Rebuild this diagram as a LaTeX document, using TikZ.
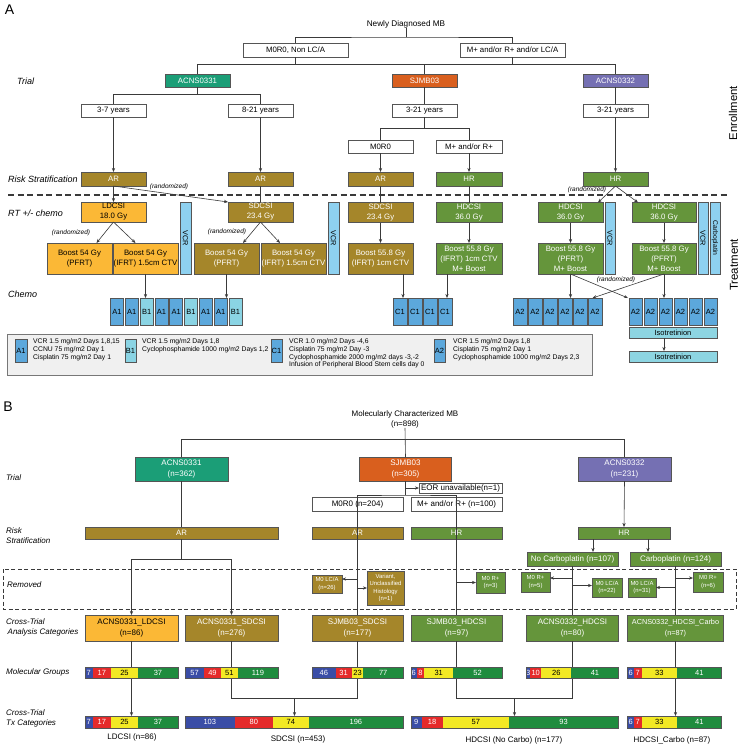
\documentclass[tikz,border=0pt]{standalone}
\usepackage{fontspec}
\setmainfont{Liberation Sans}
\usetikzlibrary{arrows.meta,calc}
\newcommand\fsz[2]{\fontsize{#1}{#2}\selectfont}
\definecolor{bdr}{HTML}{555555}
\definecolor{ln}{HTML}{3A3A3A}
\definecolor{cteal}{HTML}{1B9E77}
\definecolor{corange}{HTML}{D95F1E}
\definecolor{cpurple}{HTML}{7570B3}
\definecolor{colive}{HTML}{A5862A}
\definecolor{cyel}{HTML}{FBB836}
\definecolor{cgreen}{HTML}{65953B}
\definecolor{cvcr}{HTML}{8ED1F0}
\definecolor{ca}{HTML}{5CA8DC}
\definecolor{cb}{HTML}{8AD4E4}
\definecolor{ciso}{HTML}{8DD5E2}
\definecolor{mblue}{HTML}{3A4DA6}
\definecolor{mred}{HTML}{E52A2A}
\definecolor{myel}{HTML}{F3E924}
\definecolor{mgreen}{HTML}{1F8C3E}
\definecolor{lgray}{HTML}{F0F0F0}
\tikzset{
  bx/.style={draw=bdr, line width=0.5pt, inner sep=0pt, outer sep=0pt, align=center, font=\fsz{7.8}{10}},
  wbx/.style={bx, fill=white},
  tealbx/.style={bx, fill=cteal, text=white},
  orbx/.style={bx, fill=corange, text=white},
  purbx/.style={bx, fill=cpurple, text=white},
  olbx/.style={bx, fill=colive, text=white},
  grbx/.style={bx, fill=cgreen, text=white},
  yebx/.style={bx, fill=cyel, text=black},
  vbar/.style={bx, fill=cvcr, rotate=-90, minimum width=72, minimum height=11, font=\fsz{7.3}{8}},
  chm/.style={bx, fill=ca, minimum width=13, minimum height=27, font=\fsz{7.5}{8}},
  smbx/.style={font=\fsz{5.9}{7.6}},
  lab/.style={anchor=west, font=\fsz{9}{10}\itshape, inner sep=0pt},
  labB/.style={anchor=west, align=left, font=\fsz{8}{10}\itshape, inner sep=0pt},
  rnd/.style={font=\fsz{6.5}{7}\itshape, inner sep=0pt},
  con/.style={draw=ln, line width=0.6pt},
  arr/.style={con, -{Stealth[length=4pt,width=3.2pt]}},
  seg/.style={inner sep=0pt, outer sep=0pt, anchor=west, font=\fsz{7.5}{8}},
  plain/.style={inner sep=0pt, font=\fsz{8}{10}, align=center},
}
% name, x0, ycenter, width, a, b, c, d, height
\newcommand\mbar[9]{%
  \pgfmathsetmacro\mtot{#5+#6+#7+#8}%
  \pgfmathsetmacro\mwa{#4/\mtot*#5}%
  \pgfmathsetmacro\mwb{#4/\mtot*#6}%
  \pgfmathsetmacro\mwc{#4/\mtot*#7}%
  \pgfmathsetmacro\mwd{#4/\mtot*#8}%
  \node[seg, fill=mblue, text=white, minimum width=\mwa, minimum height=#9] (#1a) at (#2,#3) {\makebox[0pt]{#5}};
  \node[seg, fill=mred, text=white, minimum width=\mwb, minimum height=#9] (#1b) at (#1a.east) {\makebox[0pt]{#6}};
  \node[seg, fill=myel, text=black, minimum width=\mwc, minimum height=#9] (#1c) at (#1b.east) {\makebox[0pt]{#7}};
  \node[seg, fill=mgreen, text=white, minimum width=\mwd, minimum height=#9] (#1d) at (#1c.east) {\makebox[0pt]{#8}};
  \draw[bdr, line width=0.4pt] (#1a.north west) rectangle (#1d.south east);
}
\begin{document}
\begin{tikzpicture}[x=1pt,y=-1pt]
\useasboundingbox[fill=white] (0,0) rectangle (740,747);
%================ PART A =================
\node[font=\fsz{14}{14}, inner sep=0pt] (lblA) at (9.5,10) {A};
\node[plain, font=\fsz{8.2}{10}] (title) at (406,24) {Newly Diagnosed MB};
\node[wbx, minimum width=105, minimum height=14] (m0) at (295.5,50) {M0R0, Non LC/A};
\node[wbx, minimum width=105, minimum height=14] (mp) at (512.5,50) {M+ and/or R+ and/or LC/A};
\coordinate (j0) at (406,37);
\draw[con] (title.south) -- (j0);
\draw[con] (m0.north) |- (j0) -| (mp.north);

\node[tealbx, minimum width=65, minimum height=13] (a31) at (197.5,80.5) {ACNS0331};
\node[orbx, minimum width=65, minimum height=13] (sj) at (424.5,80.5) {SJMB03};
\node[purbx, minimum width=65, minimum height=13] (a32) at (615.5,80.5) {ACNS0332};
\draw[con] (m0.south) -- ++(0,7);
\draw[con] (mp.south) -- ++(0,7);
\draw[con] (a31.north) -- ++(0,-10) -| (a32.north);
\draw[con] (sj.north) -- ++(0,-10);

\node[wbx, minimum width=65, minimum height=13] (g1) at (113.5,110.5) {3-7 years};
\node[wbx, minimum width=65, minimum height=13] (g2) at (260.5,110.5) {8-21 years};
\node[wbx, minimum width=65, minimum height=13] (g3) at (424.5,110.5) {3-21 years};
\node[wbx, minimum width=65, minimum height=13] (g4) at (615.5,110.5) {3-21 years};
\draw[con] (a31.south) -- ++(0,7);
\draw[con] (g1.north) -- ++(0,-10) -| (g2.north);
\draw[con] (sj.south) -- (g3.north);
\draw[con] (a32.south) -- (g4.north);

\node[wbx, minimum width=65, minimum height=13] (s0) at (380.5,146.5) {M0R0};
\node[wbx, minimum width=66, minimum height=13] (sp) at (469,146.5) {M+ and/or R+};
\draw[con] (g3.south) -- ++(0,11);
\draw[con] (s0.north) -- ++(0,-12) -| (sp.north);

\node[olbx, minimum width=65, minimum height=14] (ar1) at (113.5,179) {AR};
\node[olbx, minimum width=65, minimum height=14] (ar2) at (260.5,179) {AR};
\node[olbx, minimum width=65, minimum height=14] (ar3) at (380.5,179) {AR};
\node[grbx, minimum width=66, minimum height=14] (hr1) at (469,179) {HR};
\node[grbx, minimum width=65, minimum height=14] (hr2) at (615.5,179) {HR};
\draw[arr] (g1.south) -- (ar1.north);
\draw[arr] (g2.south) -- (ar2.north);
\draw[arr] (s0.south) -- (ar3.north);
\draw[arr] (sp.south) -- (hr1.north);
\draw[arr] (g4.south) -- (hr2.north);

\draw[ln, line width=1.5pt, dash pattern=on 6pt off 3.5pt] (8,195) -- (729,195);

\node[yebx, minimum width=65, minimum height=20] (ld) at (113.5,212) {LDCSI\\18.0 Gy};
\node[olbx, minimum width=65, minimum height=20] (sd1) at (260.5,212) {SDCSI\\23.4 Gy};
\node[olbx, minimum width=65, minimum height=20] (sd2) at (380.5,212.5) {SDCSI\\23.4 Gy};
\node[grbx, minimum width=66, minimum height=20] (hd1) at (469,212.5) {HDCSI\\36.0 Gy};
\node[grbx, minimum width=65, minimum height=20] (hd2) at (570.5,212.5) {HDCSI\\36.0 Gy};
\node[grbx, minimum width=64, minimum height=20] (hd3) at (664,212.5) {HDCSI\\36.0 Gy};
\draw[arr] (ar1.south) -- (ld.north);
\draw[arr] (ar1.south) -- (sd1.north west);
\draw[con] (ar2.south) -- (sd1.north);
\draw[con] (ar3.south) -- (sd2.north);
\draw[con] (hr1.south) -- (hd1.north);
\draw[arr] (hr2.south) -- ([xshift=-5pt]hd2.north east);
\draw[arr] (hr2.south) -- ([xshift=6pt]hd3.north west);
\node[rnd] (rz1) at (169,187) {(randomized)};
\node[rnd] (rz4) at (587,190) {(randomized)};

\node[yebx, minimum width=65, minimum height=31] (b1) at (79.5,258.5) {Boost 54 Gy\\(PFRT)};
\node[yebx, minimum width=65, minimum height=31] (b2) at (145.5,258.5) {Boost 54 Gy\\(IFRT) 1.5cm CTV};
\node[olbx, minimum width=65, minimum height=31] (b3) at (226.5,258.5) {Boost 54 Gy\\(PFRT)};
\node[olbx, minimum width=65, minimum height=31] (b4) at (293.5,258.5) {Boost 54 Gy\\(IFRT) 1.5cm CTV};
\node[olbx, minimum width=65, minimum height=31] (b5) at (380.5,258.5) {Boost 55.8 Gy\\(IFRT) 1cm CTV};
\node[grbx, minimum width=66, minimum height=31] (b6) at (469,258.5) {Boost 55.8 Gy\\(IFRT) 1cm CTV\\M+ Boost};
\node[grbx, minimum width=65, minimum height=31] (b7) at (570.5,258.5) {Boost 55.8 Gy\\(PFRT)\\M+ Boost};
\node[grbx, minimum width=64, minimum height=31] (b8) at (664,258.5) {Boost 55.8 Gy\\(PFRT)\\M+ Boost};
\draw[arr] (ld.south) -- ([xshift=17pt]b1.north);
\draw[arr] (ld.south) -- ([xshift=-10pt]b2.north);
\draw[arr] (sd1.south) -- ([xshift=16.5pt]b3.north);
\draw[arr] (sd1.south) -- ([xshift=-13.5pt]b4.north);
\draw[arr] (sd2.south) -- (b5.north);
\draw[arr] (hd1.south) -- (b6.north);
\draw[arr] (hd2.south) -- (b7.north);
\draw[arr] (hd3.south) -- (b8.north);
\node[rnd] (rz2) at (71,233) {(randomized)};
\node[rnd] (rz3) at (227,232) {(randomized)};

\node[vbar] (v1) at (185.5,238) {VCR};
\node[vbar] (v2) at (333.5,238) {VCR};
\node[vbar, minimum height=10] (v3) at (610,238) {VCR};
\node[vbar, minimum height=10] (v4) at (703,238) {VCR};
\node[vbar, minimum height=10, font=\fsz{6.8}{8}] (v5) at (715,238) {Carboplatin};

% chemo row
\foreach \i/\t/\c in {0/A1/ca,1/A1/ca,2/B1/cb,3/A1/ca,4/A1/ca,5/B1/cb,6/A1/ca,7/A1/ca,8/B1/cb}
  \node[chm, fill=\c] (r1\i) at ({117+14.8*\i},311.5) {\t};
\foreach \i in {0,...,3}
  \node[chm, minimum width=14] (r2\i) at ({400+15*\i},311.5) {C1};
\foreach \i in {0,...,5}
  \node[chm, minimum width=13.5] (r3\i) at ({520+15*\i},311.5) {A2};
\foreach \i in {0,...,5}
  \node[chm, minimum width=13.5] (r4\i) at ({635.5+15*\i},311.5) {A2};
\draw[arr] (b2.south) -- (b2.south |- r12.north);
\draw[arr] (b3.south) -- (b3.south |- r17.north);
\coordinate (q5) at ($(b5.south)+(22.5,0)$);
\draw[arr] (q5) -- (q5 |- r20.north);
\coordinate (q6) at ($(b6.south)+(-22,0)$);
\draw[arr] (q6) -- (q6 |- r23.north);
\draw[arr] (b7.south) -- (b7.south |- r33.north);
\draw[arr] (b7.south) -- ([xshift=-7.5pt]r40.north);
\draw[arr] (b8.south) -- (b8.south |- r42.north);
\draw[arr] (b8.south) -- ([xshift=-2.5pt]r35.north);
\node[rnd] (rz5) at (616,280) {(randomized)};

\node[bx, fill=ciso, minimum width=88, minimum height=11, font=\fsz{7.5}{8}] (iso1) at (673,332.5) {Isotretinion};
\node[bx, fill=ciso, minimum width=88, minimum height=11, font=\fsz{7.5}{8}] (iso2) at (673,356.5) {Isotretinion};
\draw[arr] (iso1.south -| b8.south) -- (iso2.north -| b8.south);

% legend
\node[draw=bdr!80, fill=lgray, line width=0.5pt, minimum width=585, minimum height=41, inner sep=0pt] (leg) at (299.5,354.5) {};
\node[chm, minimum width=12, minimum height=23] (kA1) at (21,350.5) {A1};
\node[chm, fill=cb, minimum width=11, minimum height=23] (kB1) at (130.5,350.5) {B1};
\node[chm, minimum width=11, minimum height=23] (kC1) at (276.5,350.5) {C1};
\node[chm, minimum width=11, minimum height=23] (kA2) at (439.5,350.5) {A2};
\node[anchor=north west, align=left, font=\fsz{6.8}{7.7}, inner sep=0pt] (tA1) at (33,338.5) {VCR 1.5 mg/m2 Days 1,8,15\\CCNU 75 mg/m2 Day 1\\Cisplatin 75 mg/m2 Day 1};
\node[anchor=north west, align=left, font=\fsz{6.8}{7.7}, inner sep=0pt] (tB1) at (142,338.5) {VCR 1.5 mg/m2 Days 1,8\\Cyclophosphamide 1000 mg/m2 Days 1,2};
\node[anchor=north west, align=left, font=\fsz{6.8}{7.7}, inner sep=0pt] (tC1) at (289,338.5) {VCR 1.0 mg/m2 Days -4,6\\Cisplatin 75 mg/m2 Day -3\\Cyclophosphamide 2000 mg/m2 days -3,-2\\Infusion of Peripheral Blood Stem cells day 0};
\node[anchor=north west, align=left, font=\fsz{6.8}{7.7}, inner sep=0pt] (tA2) at (453,338.5) {VCR 1.5 mg/m2 Days 1,8\\Cisplatin 75 mg/m2 Day 1\\Cyclophosphamide 1000 mg/m2 Days 2,3};

% row labels A
\node[lab] (lt) at (17,81) {Trial};
\node[lab] (lr) at (8,179) {Risk Stratification};
\node[lab] (lrt) at (8,213) {RT +/- chemo};
\node[lab] (lch) at (8,294) {Chemo};
\node[font=\fsz{11.3}{12}, rotate=90, inner sep=0pt] (enr) at (733,113) {Enrollment};
\node[font=\fsz{11.5}{12}, rotate=90, inner sep=0pt] (trt) at (734,265) {Treatment};

%================ PART B =================
\node[font=\fsz{14}{14}, inner sep=0pt] (lblB) at (8,407) {B};
\node[plain] (titleB) at (405,419) {Molecularly Characterized MB\\(n=898)};
\node[tealbx, minimum width=93, minimum height=24, font=\fsz{8}{11}] (t31) at (181.5,469) {ACNS0331\\(n=362)};
\node[orbx, minimum width=92, minimum height=24, font=\fsz{8}{11}] (tsj) at (405.5,469) {SJMB03\\(n=305)};
\node[purbx, minimum width=93, minimum height=24, font=\fsz{8}{11}] (t32) at (624.5,469) {ACNS0332\\(n=231)};
\draw[con] (titleB.south) -- (tsj.north);
\draw[con] (t31.north) -- ++(0,-18) -| (t32.north);
\node[wbx, minimum width=83, minimum height=10, font=\fsz{8}{10}] (eor) at (460.5,488) {EOR unavailable(n=1)};
\draw[arr] (tsj.south |- eor.west) -- (eor.west);

\node[wbx, minimum width=91, minimum height=14, font=\fsz{8}{10}] (m0B) at (357.5,504.5) {M0R0 (n=204)};
\node[wbx, minimum width=91, minimum height=14, font=\fsz{8}{10}] (mpB) at (456.5,504.5) {M+ and/or R+ (n=100)};

\node[olbx, minimum width=193, minimum height=12] (arB1) at (181.5,533) {AR};
\node[olbx, minimum width=91, minimum height=12] (arB2) at (357.5,533) {AR};
\node[grbx, minimum width=91, minimum height=12] (hrB1) at (456.5,533) {HR};
\node[grbx, minimum width=92, minimum height=12] (hrB2) at (624,533) {HR};
\node[grbx, minimum width=91, minimum height=14, font=\fsz{8}{10}] (nocarbo) at (572.5,559) {No Carboplatin (n=107)};
\node[grbx, minimum width=91, minimum height=14, font=\fsz{8}{10}] (carbo) at (675.5,559) {Carboplatin (n=124)};
\draw[con] (t31.south) -- (arB1.north);
\draw[arr] (t32.south) -- (hrB2.north);
\coordinate (qh1) at ($(hrB2.south)+(-31,0)$);
\draw[arr] (qh1) -- (qh1 |- nocarbo.north);
\coordinate (qh2) at ($(hrB2.south)+(24,0)$);
\draw[arr] (qh2) -- (qh2 |- carbo.north);

% removed area
\draw[ln, line width=0.6pt, dash pattern=on 4pt off 2.5pt] (3,569) rectangle (736,609);
\node[olbx, smbx, minimum width=30, minimum height=18] (rm1) at (327,584) {M0 LC/A\\(n=26)};
\node[olbx, smbx, minimum width=37, minimum height=34] (rm2) at (385.5,588) {Variant,\\Unclassified\\Histology\\(n=1)};
\node[grbx, smbx, minimum width=29, minimum height=21] (rm3) at (490.5,582.5) {M0 R+\\(n=3)};
\node[grbx, smbx, minimum width=29, minimum height=20] (rm4) at (535.5,582) {M0 R+\\(n=5)};
\node[grbx, smbx, minimum width=30, minimum height=19] (rm5) at (607,587.5) {M0 LC/A\\(n=22)};
\node[grbx, smbx, minimum width=28, minimum height=19] (rm6) at (642,587.5) {M0 LC/A\\(n=31)};
\node[grbx, smbx, minimum width=30, minimum height=20] (rm7) at (708,582) {M0 R+\\(n=6)};

% analysis categories
\node[yebx, minimum width=93, minimum height=26, font=\fsz{8}{11}] (c31L) at (131.5,628) {ACNS0331\_LDCSI\\(n=86)};
\node[olbx, minimum width=93, minimum height=26, font=\fsz{8}{11}] (c31S) at (231.5,628) {ACNS0331\_SDCSI\\(n=276)};
\node[olbx, minimum width=91, minimum height=26, font=\fsz{8}{11}] (csj1) at (357.5,628) {SJMB03\_SDCSI\\(n=177)};
\node[grbx, minimum width=91, minimum height=26, font=\fsz{8}{11}] (csj2) at (456.5,628) {SJMB03\_HDCSI\\(n=97)};
\node[grbx, minimum width=92, minimum height=26, font=\fsz{8}{11}] (c32) at (572.5,628) {ACNS0332\_HDCSI\\(n=80)};
\node[grbx, minimum width=96, minimum height=26, font=\fsz{7.3}{11}] (c3c) at (675.5,628) {ACNS0332\_HDCSI\_Carbo\\(n=87)};

\draw[arr] (arB1.south) -- ++(0,20) -| (c31L.north);
\draw[arr] (arB1.south) -- ++(0,20) -| (c31S.north);
\draw[con] (nocarbo.south) -- (c32.north);
\draw[con] (carbo.south) -- (c3c.north);

% SJMB03 lines on top of boxes
\draw[con] (tsj.south) -- ++(0,14) coordinate (jsj);
\draw[con] (csj1.north) |- (jsj) -| (csj2.north);

% arrows to removed boxes
\coordinate (q1) at ($(rm1.east)+(0,-5)$);
\draw[arr] (q1 -| csj1.north) -- (q1);
\draw[arr] (rm2.west -| csj1.north) -- (rm2.west);
\draw[arr] (rm3.west -| csj2.north) -- (rm3.west);
\coordinate (q4) at ($(rm4.east)+(0,-4)$);
\draw[arr] (q4 -| nocarbo.south) -- (q4);
\coordinate (q55) at ($(rm5.west)+(0,-2)$);
\draw[arr] (q55 -| nocarbo.south) -- (q55);
\draw[arr] (rm6.east -| carbo.south) -- (rm6.east);
\coordinate (q7) at ($(rm7.west)+(0,-4)$);
\draw[arr] (q7 -| carbo.south) -- (q7);

% lower connectors (behind bars)
\coordinate (txt) at (0,716);
\coordinate (jy) at (0,698);
\draw[arr] (c31L.south) -- (c31L.south |- txt);
\draw[con] (c31S.south) |- (jy -| csj1.south) -- (csj1.south);
\coordinate (mS) at ($(c31S.south |- jy)!0.5!(csj1.south |- jy)$);
\draw[arr] (mS) -- (mS |- txt);
\draw[con] (csj2.south) |- (jy -| c32.south) -- (c32.south);
\coordinate (mH) at ($(csj2.south |- jy)!0.5!(c32.south |- jy)$);
\draw[arr] (mH) -- (mH |- txt);
\draw[arr] (c3c.south) -- (c3c.south |- txt);

% molecular group bars
\mbar{mg1}{85}{672.5}{93}{7}{17}{25}{37}{11}
\mbar{mg2}{185}{672.5}{93}{57}{49}{51}{119}{11}
\mbar{mg3}{312}{672.5}{91}{46}{31}{23}{77}{11}
\mbar{mg4}{411}{672.5}{91}{6}{8}{31}{52}{11}
\mbar{mg5}{526.5}{672.5}{92}{3}{10}{26}{41}{11}
\mbar{mg6}{627.5}{672.5}{94}{6}{7}{33}{41}{11}
% tx category bars
\mbar{tx1}{85}{722}{93}{7}{17}{25}{37}{12}
\mbar{tx2}{185}{722}{218}{103}{80}{74}{196}{12}
\mbar{tx3}{411}{722}{207}{9}{18}{57}{93}{12}
\mbar{tx4}{627.5}{722}{94}{6}{7}{33}{41}{12}

\node[plain] (lL) at (132,737.5) {LDCSI (n=86)};
\node[plain] (lS) at (298,739) {SDCSI (n=453)};
\node[plain] (lH) at (514,740) {HDCSI (No Carbo) (n=177)};
\node[plain] (lC) at (672,740) {HDCSI\_Carbo (n=87)};

% row labels B
\node[labB] (bl1) at (6,478) {Trial};
\node[labB] (bl2) at (6,536) {Risk\\Stratification};
\node[labB] (bl3) at (7,585) {Removed};
\node[labB] (bl4) at (6,627) {Cross-Trial\\\hspace*{1.5pt}Analysis Categories};
\node[labB] (bl5) at (6,672) {Molecular Groups};
\node[labB] (bl6) at (6,718) {Cross-Trial\\Tx Categories};
\end{tikzpicture}
\end{document}
